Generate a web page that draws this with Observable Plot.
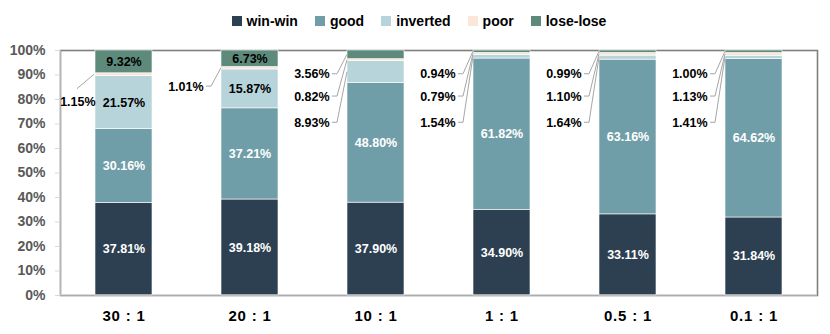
<!DOCTYPE html>
<html><head><meta charset="utf-8">
<script src="https://cdn.jsdelivr.net/npm/d3@7"></script>
<script src="https://cdn.jsdelivr.net/npm/@observablehq/plot@0.6"></script>
<style>
html,body{margin:0;padding:0;background:#fff;}
#chart{width:830px;}
.lg-swatches{display:flex !important;justify-content:center !important;align-items:center !important;height:40px !important;min-height:0 !important;margin:0 !important;padding:2px 0 0 8px;box-sizing:border-box;font-family:"Liberation Sans",Arial,sans-serif !important;font-size:14px !important;font-weight:bold !important;color:#000 !important;}
.lg-swatch{margin-right:17px !important;}
.lg-swatch:last-child{margin-right:0 !important;}
.lg-swatch > svg{margin-right:5px !important;}
g[aria-label="x-axis tick label"] text{letter-spacing:0.8px;}
</style></head><body><div id="chart"></div>
<script>
// ---- data ----
const categories = ["30 : 1", "20 : 1", "10 : 1", "1 : 1", "0.5 : 1", "0.1 : 1"];
const series = ["win-win", "good", "inverted", "poor", "lose-lose"];
const winWin   = [37.81, 39.18, 37.90, 34.90, 33.11, 31.84];
const good     = [30.16, 37.21, 48.80, 61.82, 63.16, 64.62];
const inverted = [21.57, 15.87, 8.93, 1.54, 1.64, 1.41];
const poor     = [1.15, 1.01, 0.82, 0.79, 1.10, 1.13];
const loseLose = [9.32, 6.73, 3.56, 0.94, 0.99, 1.00];
const yTicks   = [0, 10, 20, 30, 40, 50, 60, 70, 80, 90, 100];
const colors   = ["#2d4051", "#6f9ea9", "#b7d4db", "#fbe6d8", "#5e8a7b"];

// ---- build table ----
const seriesValues = [winWin, good, inverted, poor, loseLose];
const rows = [];
categories.forEach((cat, i) => {
  let acc = 0;
  series.forEach((s, j) => {
    const v = seriesValues[j][i];
    rows.push({cat, i, series: s, value: v, y1: acc, y2: acc + v, mid: acc + v / 2});
    acc += v;
  });
});
const isOutside = r => r.series === "poor" || (r.series === "inverted" && r.value < 10) || (r.series === "lose-lose" && r.value < 5);
const inside = rows.filter(r => !isOutside(r));
const outside = [];
categories.forEach((cat, i) => {
  const grp = rows.filter(r => r.cat === cat && isOutside(r)).reverse(); // top-down
  const slots = [90.3, 81.2, 70.5];
  grp.forEach((r, k) => {
    const tight = i === 0;
    r.gap = tight ? 0 : 18;
    r.ly = grp.length > 1 ? slots[k] : r.mid - (tight ? 11.2 : 7.5);
    outside.push(r);
  });
});
const lightText = new Set(["win-win", "good"]);

// ---- layout ----
const W = 830, H = 294, mL = 60, mR = 13, mT = 10, mB = 39;
const padIn = 0.55, padOut = 0.275;
const step = (W - mL - mR) / (categories.length - padIn + 2 * padOut);
const bw = step * (1 - padIn);

function leaders(index, scales, values, dims) {
  const x = scales.x, y = scales.y;
  const g = d3.create("svg:g");
  const lines = g.append("g").attr("fill", "none").attr("stroke", "#a6a6a6").attr("stroke-width", 1);
  for (const r of outside) {
    const bl = x(r.cat);
    const ty = y(r.ly), sy = y(r.mid);
    const lr = bl - r.gap;
    const pts = r.gap < 5 ? [[lr - 18, ty - 13], [bl - 1, sy]] : [[lr + 3, ty], [lr + 8, ty], [bl, sy]];
    lines.append("path").attr("d", d3.line()(pts));
  }
  const ax = g.append("g").attr("stroke", "#d9d9d9").attr("stroke-width", 1.2);
  ax.append("line").attr("x1", mL).attr("x2", mL).attr("y1", y(0)).attr("y2", y(100));
  ax.append("line").attr("x1", mL).attr("x2", W - mR).attr("y1", y(0)).attr("y2", y(0));
  return g.node();
}

const chart = Plot.plot({
  width: W, height: H, marginTop: mT, marginBottom: mB, marginLeft: mL, marginRight: mR,
  style: {fontFamily: "'Liberation Sans', Arial, sans-serif", fontSize: "12.5px", background: "#fff"},
  x: {domain: categories, paddingInner: padIn, paddingOuter: padOut, label: null},
  y: {domain: [0, 100], label: null},
  color: {domain: series, range: colors},
  marks: [
    Plot.frame({stroke: "#7f7f7f", strokeWidth: 1.6}),
    Plot.barY(rows, {x: "cat", y1: "y1", y2: "y2", fill: "series", stroke: "white", strokeWidth: 0.6}),
    leaders,
    Plot.axisY({ticks: yTicks, tickFormat: d => d + "%", tickSize: 5, tickPadding: 10, stroke: "#d9d9d9", fill: "#595959", fontSize: 14, fontWeight: "bold"}),
    Plot.axisX({tickSize: 0, tickPadding: 15, fill: "#000", fontSize: 15, fontWeight: "bold"}),
    Plot.text(inside.filter(r => lightText.has(r.series)), {x: "cat", y: "mid", text: d => d.value.toFixed(2) + "%", fill: "white", fontWeight: "bold", fontSize: 12.5}),
    Plot.text(inside.filter(r => !lightText.has(r.series)), {x: "cat", y: "mid", text: d => d.value.toFixed(2) + "%", fill: "black", fontWeight: "bold", fontSize: 12.5}),
    Plot.text(outside.filter(r => r.gap < 5), {x: "cat", y: "ly", text: d => d.value.toFixed(2) + "%", fill: "black", fontWeight: "bold", fontSize: 12.5, textAnchor: "end", dx: -bw / 2}),
    Plot.text(outside.filter(r => r.gap >= 5), {x: "cat", y: "ly", text: d => d.value.toFixed(2) + "%", fill: "black", fontWeight: "bold", fontSize: 12.5, textAnchor: "end", dx: -bw / 2 - 18})
  ]
});

const legend = chart.legend("color", {swatchSize: 10, className: "lg"});
const root = document.getElementById("chart");
root.appendChild(legend);
root.appendChild(chart);
</script></body></html>
